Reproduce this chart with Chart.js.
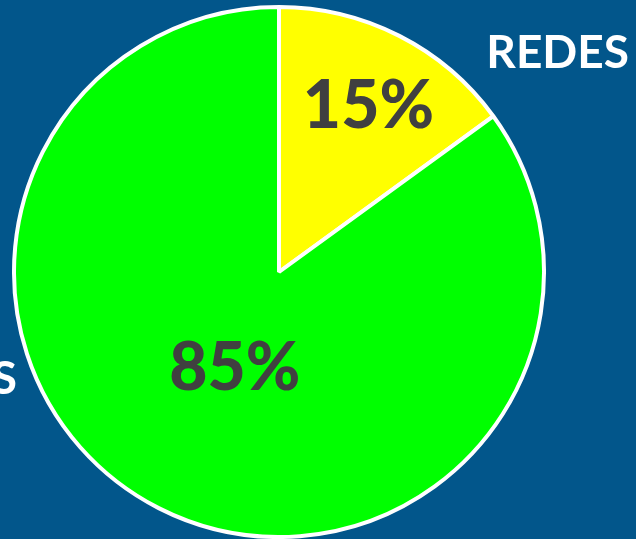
<!DOCTYPE html>
<html>
<head>
<meta charset="utf-8">
<script src="https://cdn.jsdelivr.net/npm/chart.js@4"></script>
<style>
  html, body { margin: 0; padding: 0; background: #02568B; }
  #wrap { width: 636px; height: 539px; }
</style>
</head>
<body>
<div id="wrap"><canvas id="chart"></canvas></div>
<script>
const categories = ['REDES', 'OTROS'];
const values = [15, 85];
const valueLabels = ['15%', '85%'];
const sliceColors = ['#FFFF00', '#00FF00'];

// how far out (fraction of radius) each percent label sits
const labelRadius = [0.71, 0.40];

const sliceLabels = {
  id: 'sliceLabels',
  afterDatasetsDraw(chart) {
    const ctx = chart.ctx;
    const arcs = chart.getDatasetMeta(0).data;
    ctx.save();
    ctx.textAlign = 'center';
    ctx.textBaseline = 'middle';
    ctx.fillStyle = '#404040';
    ctx.font = '900 66px Lato';
    arcs.forEach((arc, i) => {
      const p = arc.getProps(['x', 'y', 'startAngle', 'endAngle', 'outerRadius']);
      const mid = (p.startAngle + p.endAngle) / 2;
      const r = p.outerRadius * labelRadius[i];
      ctx.fillText(valueLabels[i], p.x + Math.cos(mid) * r + 4, p.y + Math.sin(mid) * r + 2);
    });

    // category names outside the pie
    ctx.fillStyle = '#FFFFFF';
    ctx.font = 'bold 46px Lato';
    ctx.textAlign = 'right';
    ctx.fillText(categories[0], 629, 53);
    ctx.fillText(categories[1], 17, 379);
    ctx.restore();
  }
};

new Chart(document.getElementById('chart'), {
  type: 'pie',
  data: {
    labels: categories,
    datasets: [{
      data: values,
      backgroundColor: sliceColors,
      borderColor: '#FFFFFF',
      borderWidth: 4
    }]
  },
  options: {
    responsive: true,
    maintainAspectRatio: false,
    animation: false,
    layout: { padding: { left: 10, right: 88, top: 5, bottom: -2 } },
    plugins: {
      legend: { display: false },
      tooltip: { enabled: false }
    }
  },
  plugins: [sliceLabels]
});
</script>
</body>
</html>
